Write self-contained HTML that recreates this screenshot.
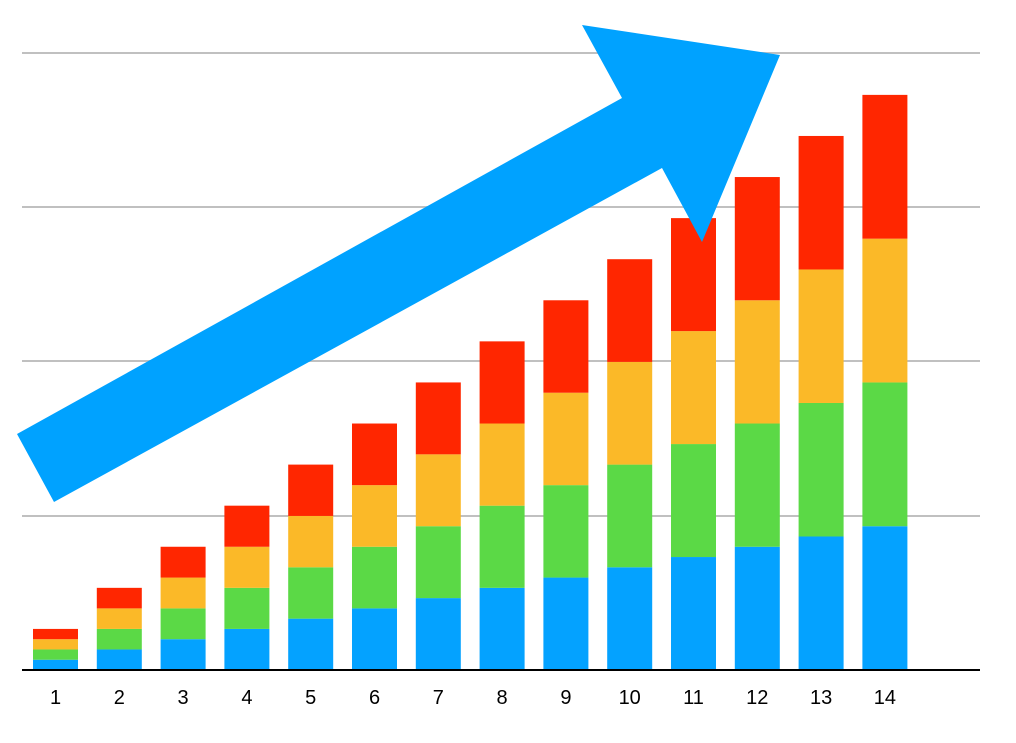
<!DOCTYPE html>
<html><head><style>html,body{margin:0;padding:0;background:#fff}</style></head><body>
<svg width="1016" height="738" xmlns="http://www.w3.org/2000/svg">
<g stroke="#c0c0c0" stroke-width="2">
<line x1="22" y1="53" x2="980" y2="53"/><line x1="22" y1="207" x2="980" y2="207"/>
<line x1="22" y1="361" x2="980" y2="361"/><line x1="22" y1="516" x2="980" y2="516"/>
</g>
<g id="bars"></g>
<line x1="22" y1="670" x2="980" y2="670" stroke="#000" stroke-width="2"/>
<g font-family="Liberation Sans, sans-serif" font-size="20" text-anchor="middle" fill="#000" id="labels"></g>
<polygon fill="#00a2ff" points="17,434 622,98 582,25 780,55 702,242 662,168 54,502"/>
</svg>
<script>
var b=document.getElementById('bars'),l=document.getElementById('labels'),ns='http://www.w3.org/2000/svg';
var cols=['#04a2ff','#5bd946','#fbb928','#ff2600'];
for(var n=1;n<=14;n++){var x=33+(n-1)*63.8,h=10.27*n,y=670;
for(var k=0;k<4;k++){var r=document.createElementNS(ns,'rect');r.setAttribute('x',x);r.setAttribute('width',45);r.setAttribute('y',y-h);r.setAttribute('height',h);r.setAttribute('fill',cols[k]);b.appendChild(r);y-=h;}
var t=document.createElementNS(ns,'text');t.setAttribute('x',x+22.5);t.setAttribute('y',704);t.textContent=n;l.appendChild(t);}
</script>
</body></html>
